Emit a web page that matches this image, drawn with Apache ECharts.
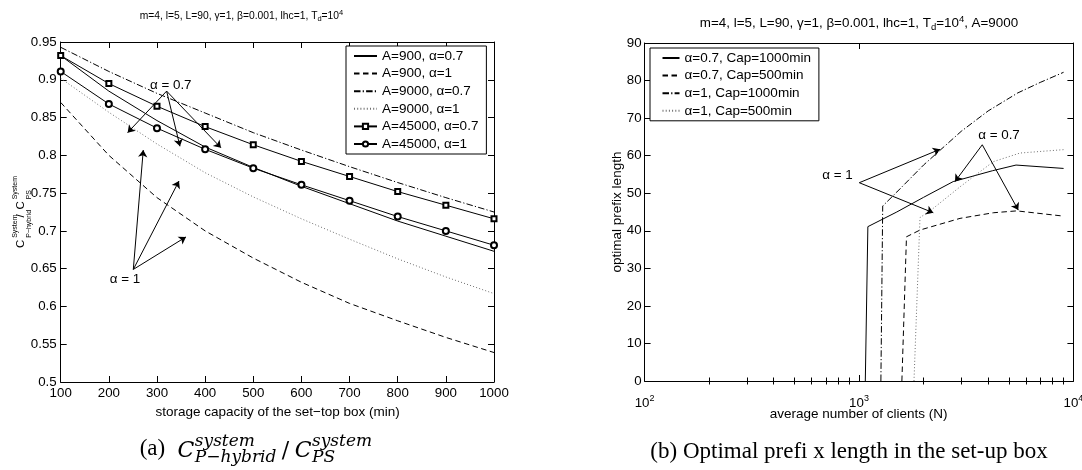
<!DOCTYPE html>
<html>
<head>
<meta charset="utf-8">
<script src="https://cdn.jsdelivr.net/npm/echarts@6/dist/echarts.min.js"></script>
<style>
  html, body { margin: 0; padding: 0; background: #fff; }
  #chart { width: 1082px; height: 470px; }
</style>
</head>
<body>
<div id="chart"></div>
<script>
// ---- (a) cost ratio versus set-top box storage capacity ----
const capacity   = [100, 200, 300, 400, 500, 600, 700, 800, 900, 1000];
const a900_07    = [0.932, 0.885, 0.846, 0.811, 0.784, 0.759, 0.736, 0.713, 0.693, 0.673];
const a900_1     = [0.870, 0.800, 0.744, 0.700, 0.664, 0.632, 0.604, 0.581, 0.559, 0.539];
const a9000_07   = [0.943, 0.911, 0.882, 0.856, 0.830, 0.807, 0.785, 0.764, 0.744, 0.725];
const a9000_1    = [0.902, 0.857, 0.815, 0.777, 0.745, 0.716, 0.689, 0.663, 0.639, 0.617];
const a45000_07  = [0.932, 0.895, 0.865, 0.838, 0.814, 0.792, 0.772, 0.752, 0.734, 0.716];
const a45000_1   = [0.911, 0.868, 0.836, 0.808, 0.783, 0.761, 0.740, 0.719, 0.700, 0.681];

const capTicks   = [100, 200, 300, 400, 500, 600, 700, 800, 900, 1000];
const ratioTicks = [0.5, 0.55, 0.6, 0.65, 0.7, 0.75, 0.8, 0.85, 0.9, 0.95];

// ---- (b) optimal prefix length versus number of clients ----
const clients07c1000 = [1070, 1100, 1500, 2000, 2750, 4200, 5400, 9000];
const prefix07c1000  = [0, 41.1, 45.0, 48.9, 53.1, 56.0, 57.5, 56.6];
const clients07c500  = [1585, 1665, 1926, 2959, 4230, 5440, 9000];
const prefix07c500   = [0, 38.4, 40.2, 43.3, 44.8, 45.3, 43.9];
const clients1c1000  = [1265, 1290, 1500, 2000, 3000, 4000, 5500, 7000, 9000];
const prefix1c1000   = [0, 46.6, 50.3, 57.5, 66.5, 71.9, 76.7, 79.5, 82.2];
const clients1c500   = [1805, 1925, 2223, 2959, 4230, 5636, 9000];
const prefix1c500    = [0, 43.5, 46.0, 51.7, 58.4, 60.7, 61.6];

const clientDecades = [100, 1000, 10000];
const clientMinor   = [200, 300, 400, 500, 600, 700, 800, 900, 2000, 3000, 4000, 5000, 6000, 7000, 8000, 9000];
const prefixTicks   = [0, 10, 20, 30, 40, 50, 60, 70, 80, 90];

// ---- annotation callouts (data units) ----
const leftAlpha07Text  = [328.6, 0.893];
const leftAlpha07From  = [320, 0.885];
const leftAlpha07To    = [[239, 0.830], [347.7, 0.812], [432.9, 0.810]];
const leftAlpha1Text   = [233.5, 0.636];
const leftAlpha1From   = [250.8, 0.649];
const leftAlpha1To     = [[271.5, 0.807], [345.7, 0.766], [360.2, 0.692]];
const rightAlpha1Text  = [794, 54.9];
const rightAlpha1From  = [1003, 52.8];
const rightAlpha1To    = [[2387, 61.7], [2221, 44.8]];
const rightAlpha07Text = [4498, 65.3];
const rightAlpha07From = [3758, 62.9];
const rightAlpha07To   = [[2804, 53.1], [5532, 45.5]];

const SANS = 'Liberation Sans';
const BLACK = '#000';
const GREY = '#6e6e6e';

const zip = (xs, ys) => xs.map((x, i) => [x, ys[i]]);

const SOLID = 'solid';
const DASHED = [5.5, 3.5];
const DASHDOT = [6.5, 2.2, 1.2, 2.2];
const DOTTED = [1, 2.2];

function arrows(from, tos) {
  return tos.map(t => [{ coord: from }, { coord: t }]);
}

const markLineStyle = {
  silent: true,
  animation: false,
  symbol: ['none', 'arrow'],
  symbolSize: 7,
  label: { show: false },
  lineStyle: { color: BLACK, width: 1, type: 'solid' },
  emphasis: { disabled: true }
};
function callout(label, at) {
  return {
    silent: true,
    animation: false,
    symbol: 'circle',
    symbolSize: 0,
    label: { show: true, position: 'inside', formatter: label, color: BLACK,
             fontFamily: SANS, fontSize: 13.4 },
    data: [{ coord: at }]
  };
}

function lineSeries(name, data, xi, yi, color, type, extra) {
  return Object.assign({
    name: name,
    type: 'line',
    xAxisIndex: xi,
    yAxisIndex: yi,
    data: data,
    symbol: 'none',
    smooth: false,
    animation: false,
    color: color,
    lineStyle: { color: color, width: 1, type: type },
    itemStyle: { color: color, borderColor: color, borderWidth: 1 },
    emphasis: { disabled: true }
  }, extra || {});
}

// legend entry: plain line entries hide the placeholder marker
const plainEntry = name => ({ name: name, itemStyle: { opacity: 0 } });
const markedEntry = name => ({ name: name });

const tickStyle = { lineStyle: { color: BLACK, width: 1 } };
const axisLine = { show: true, onZero: false, lineStyle: { color: BLACK, width: 1 } };
const labelFont = { color: BLACK, fontFamily: SANS, fontSize: 13.3 };

const leftGrid  = { left: 60.7, right: 1082 - 494, top: 42, bottom: 470 - 382, outerBoundsMode: 'none' };
const rightGrid = { left: 644.6, right: 1082 - 1073.4, top: 43, bottom: 470 - 381, outerBoundsMode: 'none' };

const supRich = {
  b: { fontFamily: SANS, fontSize: 13.3, lineHeight: 18, verticalAlign: 'middle', color: BLACK },
  s: { fontFamily: SANS, fontSize: 9, lineHeight: 8, verticalAlign: 'top', color: BLACK }
};

const option = {
  animation: false,
  backgroundColor: '#fff',
  grid: [leftGrid, rightGrid],
  xAxis: [
    { // (a) bottom
      gridIndex: 0, type: 'value', position: 'bottom', min: 100, max: 1000,
      axisLine: axisLine, splitLine: { show: false },
      axisTick: Object.assign({ inside: true, length: 6, customValues: capTicks }, tickStyle),
      axisLabel: Object.assign({ margin: 5, customValues: capTicks, formatter: v => String(v) }, labelFont)
    },
    { // (a) top
      gridIndex: 0, type: 'value', position: 'top', min: 100, max: 1000,
      axisLine: axisLine, splitLine: { show: false },
      axisTick: Object.assign({ inside: true, length: 6, customValues: capTicks }, tickStyle),
      axisLabel: { show: false }
    },
    { // (b) bottom, decades
      gridIndex: 1, type: 'log', logBase: 10, position: 'bottom', min: 100, max: 10000,
      axisLine: axisLine, splitLine: { show: false },
      axisTick: Object.assign({ inside: true, length: 6, customValues: clientDecades }, tickStyle),
      axisLabel: {
        margin: 13, customValues: clientDecades,
        formatter: v => '{b|10}{s|' + Math.round(Math.log10(v)) + '}',
        rich: supRich
      }
    },
    { // (b) bottom, minor ticks
      gridIndex: 1, type: 'log', logBase: 10, position: 'bottom', min: 100, max: 10000,
      axisLine: { show: false }, splitLine: { show: false },
      axisTick: Object.assign({ inside: true, length: 3.5, customValues: clientMinor }, tickStyle),
      axisLabel: { show: false }
    },
    { // (b) top, decades
      gridIndex: 1, type: 'log', logBase: 10, position: 'top', min: 100, max: 10000,
      axisLine: axisLine, splitLine: { show: false },
      axisTick: Object.assign({ inside: true, length: 6, customValues: clientDecades }, tickStyle),
      axisLabel: { show: false }
    },
    { // (b) top, minor ticks
      gridIndex: 1, type: 'log', logBase: 10, position: 'top', min: 100, max: 10000,
      axisLine: { show: false }, splitLine: { show: false },
      axisTick: Object.assign({ inside: true, length: 3.5, customValues: clientMinor }, tickStyle),
      axisLabel: { show: false }
    }
  ],
  yAxis: [
    {
      gridIndex: 0, type: 'value', position: 'left', min: 0.5, max: 0.95,
      axisLine: axisLine, splitLine: { show: false },
      axisTick: Object.assign({ inside: true, length: 6, customValues: ratioTicks }, tickStyle),
      axisLabel: Object.assign({ margin: 4, customValues: ratioTicks }, labelFont)
    },
    {
      gridIndex: 0, type: 'value', position: 'right', min: 0.5, max: 0.95,
      axisLine: axisLine, splitLine: { show: false },
      axisTick: Object.assign({ inside: true, length: 6, customValues: ratioTicks }, tickStyle),
      axisLabel: { show: false }
    },
    {
      gridIndex: 1, type: 'value', position: 'left', min: 0, max: 90,
      axisLine: axisLine, splitLine: { show: false },
      axisTick: Object.assign({ inside: true, length: 6, customValues: prefixTicks }, tickStyle),
      axisLabel: Object.assign({ margin: 3, customValues: prefixTicks }, labelFont)
    },
    {
      gridIndex: 1, type: 'value', position: 'right', min: 0, max: 90,
      axisLine: axisLine, splitLine: { show: false },
      axisTick: Object.assign({ inside: true, length: 6, customValues: prefixTicks }, tickStyle),
      axisLabel: { show: false }
    }
  ],
  legend: [
    {
      data: [plainEntry('A=900, α=0.7'), plainEntry('A=900, α=1'), plainEntry('A=9000, α=0.7'),
             plainEntry('A=9000, α=1'), markedEntry('A=45000, α=0.7'), markedEntry('A=45000, α=1')],
      orient: 'vertical', left: 346, top: 46,
      padding: [3, 8, 3, 7], itemGap: 3.6, itemWidth: 23, itemHeight: 6.5,
      selectedMode: false, backgroundColor: '#fff', borderColor: BLACK, borderWidth: 1,
      textStyle: { color: BLACK, fontFamily: SANS, fontSize: 13.5 }
    },
    {
      data: [plainEntry('α=0.7, Cap=1000min'), plainEntry('α=0.7, Cap=500min'),
             plainEntry('α=1, Cap=1000min'), plainEntry('α=1, Cap=500min')],
      orient: 'vertical', left: 650, top: 48,
      padding: [3, 8, 3, 11.5], itemGap: 3.6, itemWidth: 17, itemHeight: 6.5,
      selectedMode: false, backgroundColor: '#fff', borderColor: BLACK, borderWidth: 1,
      textStyle: { color: BLACK, fontFamily: SANS, fontSize: 13.5 }
    }
  ],
  series: [
    lineSeries('A=900, α=0.7', zip(capacity, a900_07), 0, 0, BLACK, SOLID, {
      markLine: Object.assign({ data: arrows(leftAlpha07From, leftAlpha07To).concat(arrows(leftAlpha1From, leftAlpha1To)) }, markLineStyle),
      markPoint: callout('α = 0.7', leftAlpha07Text)
    }),
    lineSeries('A=900, α=1', zip(capacity, a900_1), 0, 0, BLACK, DASHED, {
      markPoint: callout('α = 1', leftAlpha1Text)
    }),
    lineSeries('A=9000, α=0.7', zip(capacity, a9000_07), 0, 0, BLACK, DASHDOT),
    lineSeries('A=9000, α=1', zip(capacity, a9000_1), 0, 0, GREY, DOTTED),
    lineSeries('A=45000, α=0.7', zip(capacity, a45000_07), 0, 0, BLACK, SOLID, {
      symbol: 'emptyRect', symbolSize: 5, showSymbol: true
    }),
    lineSeries('A=45000, α=1', zip(capacity, a45000_1), 0, 0, BLACK, SOLID, {
      symbol: 'emptyCircle', symbolSize: 6, showSymbol: true
    }),

    lineSeries('α=0.7, Cap=1000min', zip(clients07c1000, prefix07c1000), 2, 2, BLACK, SOLID, {
      markLine: Object.assign({ data: arrows(rightAlpha1From, rightAlpha1To).concat(arrows(rightAlpha07From, rightAlpha07To)) }, markLineStyle),
      markPoint: callout('α = 1', rightAlpha1Text)
    }),
    lineSeries('α=0.7, Cap=500min', zip(clients07c500, prefix07c500), 2, 2, BLACK, DASHED, {
      markPoint: callout('α = 0.7', rightAlpha07Text)
    }),
    lineSeries('α=1, Cap=1000min', zip(clients1c1000, prefix1c1000), 2, 2, BLACK, DASHDOT),
    lineSeries('α=1, Cap=500min', zip(clients1c500, prefix1c500), 2, 2, GREY, DOTTED)
  ],
  graphic: [
    // panel titles
    {
      type: 'text', x: 241.5, y: 16, silent: true,
      style: {
        text: '{n|m=4, l=5, L=90, γ=1, β=0.001, lhc=1, T}{d|d}{n|=10}{u|4}',
        textAlign: 'center', textVerticalAlign: 'middle', fill: BLACK,
        rich: {
          n: { fontFamily: SANS, fontSize: 10.3, lineHeight: 14, verticalAlign: 'middle' },
          d: { fontFamily: SANS, fontSize: 7.5, lineHeight: 6, verticalAlign: 'bottom' },
          u: { fontFamily: SANS, fontSize: 7.5, lineHeight: 6, verticalAlign: 'top' }
        }
      }
    },
    {
      type: 'text', x: 859, y: 23.7, silent: true,
      style: {
        text: '{n|m=4, l=5, L=90, γ=1, β=0.001, lhc=1, T}{d|d}{n|=10}{u|4}{n|, A=9000}',
        textAlign: 'center', textVerticalAlign: 'middle', fill: BLACK,
        rich: {
          n: { fontFamily: SANS, fontSize: 13.4, lineHeight: 18, verticalAlign: 'middle' },
          d: { fontFamily: SANS, fontSize: 9.5, lineHeight: 8, verticalAlign: 'bottom' },
          u: { fontFamily: SANS, fontSize: 9.5, lineHeight: 8, verticalAlign: 'top' }
        }
      }
    },
    // axis names
    {
      type: 'text', x: 277.6, y: 412.7, silent: true,
      style: { text: 'storage capacity of the set−top box (min)', font: '13.5px "Liberation Sans"',
               fill: BLACK, textAlign: 'center', textVerticalAlign: 'middle' }
    },
    {
      type: 'text', x: 858.6, y: 414.3, silent: true,
      style: { text: 'average number of clients (N)', font: '13.5px "Liberation Sans"',
               fill: BLACK, textAlign: 'center', textVerticalAlign: 'middle' }
    },
    {
      type: 'text', x: 617, y: 212, rotation: Math.PI / 2, silent: true,
      style: { text: 'optimal prefix length', font: '13.5px "Liberation Sans"',
               fill: BLACK, textAlign: 'center', textVerticalAlign: 'middle' }
    },
    // ratio label  C^System_P-hybrid / C^System_PS, reading upward
    {
      type: 'group', x: 21, y: 248, rotation: Math.PI / 2, silent: true,
      children: [
        { type: 'text', x: 0, y: 0, style: { text: 'C', font: '11.5px "Liberation Sans"', fill: BLACK, textAlign: 'left', textVerticalAlign: 'middle' } },
        { type: 'text', x: 10.2, y: -6, style: { text: 'System', font: '7px "Liberation Sans"', fill: BLACK, textAlign: 'left', textVerticalAlign: 'middle' } },
        { type: 'text', x: 10.2, y: 8.5, style: { text: 'P−hybrid', font: '7px "Liberation Sans"', fill: BLACK, textAlign: 'left', textVerticalAlign: 'middle' } },
        { type: 'text', x: 30.5, y: 0, style: { text: '/', font: '11.5px "Liberation Sans"', fill: BLACK, textAlign: 'left', textVerticalAlign: 'middle' } },
        { type: 'text', x: 38.5, y: 0, style: { text: 'C', font: '11.5px "Liberation Sans"', fill: BLACK, textAlign: 'left', textVerticalAlign: 'middle' } },
        { type: 'text', x: 48.7, y: -6, style: { text: 'System', font: '7px "Liberation Sans"', fill: BLACK, textAlign: 'left', textVerticalAlign: 'middle' } },
        { type: 'text', x: 48.7, y: 8.5, style: { text: 'PS', font: '7px "Liberation Sans"', fill: BLACK, textAlign: 'left', textVerticalAlign: 'middle' } }
      ]
    },
    // sub-figure captions
    {
      type: 'group', x: 139.7, y: 449, silent: true,
      children: [
        { type: 'text', x: 0, y: 0, style: { text: '(a)', font: '23px "Liberation Serif"', fill: BLACK, textAlign: 'left', textVerticalAlign: 'middle' } },
        { type: 'text', x: 37.9, y: 2, style: { text: 'C', font: 'italic 22px "DejaVu Serif"', fill: BLACK, textAlign: 'left', textVerticalAlign: 'middle' } },
        { type: 'text', x: 55.1, y: -7, style: { text: 'system', font: 'italic 17px "DejaVu Serif"', fill: BLACK, textAlign: 'left', textVerticalAlign: 'middle' } },
        { type: 'text', x: 55.1, y: 9, style: { text: 'P−hybrid', font: 'italic 17px "DejaVu Serif"', fill: BLACK, textAlign: 'left', textVerticalAlign: 'middle' } },
        { type: 'text', x: 142, y: 2, style: { text: '/', font: '22px "DejaVu Serif"', fill: BLACK, textAlign: 'left', textVerticalAlign: 'middle' } },
        { type: 'text', x: 155.1, y: 2, style: { text: 'C', font: 'italic 22px "DejaVu Serif"', fill: BLACK, textAlign: 'left', textVerticalAlign: 'middle' } },
        { type: 'text', x: 172.3, y: -7, style: { text: 'system', font: 'italic 17px "DejaVu Serif"', fill: BLACK, textAlign: 'left', textVerticalAlign: 'middle' } },
        { type: 'text', x: 172.3, y: 9, style: { text: 'PS', font: 'italic 17px "DejaVu Serif"', fill: BLACK, textAlign: 'left', textVerticalAlign: 'middle' } }
      ]
    },
    {
      type: 'text', x: 849, y: 452, silent: true,
      style: { text: '(b) Optimal prefi x length in the set-up box', font: '23px "Liberation Serif"',
               fill: BLACK, textAlign: 'center', textVerticalAlign: 'middle' }
    }
  ]
};

const chart = echarts.init(document.getElementById('chart'), null, { renderer: 'canvas' });
chart.setOption(option);
</script>
</body>
</html>
